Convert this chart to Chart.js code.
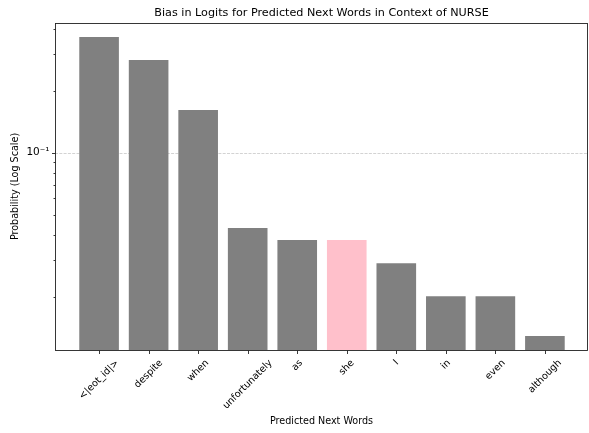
<!DOCTYPE html>
<html>
<head>
<meta charset="utf-8">
<script src="https://cdn.jsdelivr.net/npm/chart.js@4"></script>
<style>
html,body{margin:0;padding:0;background:#fff;}
canvas{display:block;}
</style>
</head>
<body>
<canvas id="c" width="589" height="433"></canvas>
<script>
const categories = ['<|eot_id|>','despite','when','unfortunately','as','she','I','in','even','although'];
const probabilities = [0.3645, 0.2818, 0.161, 0.0431, 0.0377, 0.0377, 0.0291, 0.0201, 0.0201, 0.0129];
const highlightWord = 'she';
const yMajorTicks = [0.1];
const yMajorTickLabels = ['10\u207B\u00B9'];
const yMinorTicks = [0.02,0.03,0.04,0.05,0.06,0.07,0.08,0.09,0.2,0.3,0.4];
const titleText = 'Bias in Logits for Predicted Next Words in Context of NURSE';
const xTitle = 'Predicted Next Words';
const yTitle = 'Probability (Log Scale)';

const FONT = '"DejaVu Sans", sans-serif';
const TICK_FS = 9.6;
const TITLE_FS = 11.2;

const colors = categories.map(c => c === highlightWord ? '#ffc0cb' : '#808080');

const decor = {
  id: 'decor',
  beforeDatasetsDraw(chart) {
    const ctx = chart.ctx, a = chart.chartArea, y = chart.scales.y;
    ctx.save();
    ctx.strokeStyle = 'rgba(176,176,176,0.7)';
    ctx.lineWidth = 0.8;
    ctx.setLineDash([3, 1.3]);
    yMajorTicks.forEach(v => {
      const py = Math.round(y.getPixelForValue(v)) + 0.5;
      ctx.beginPath(); ctx.moveTo(a.left, py); ctx.lineTo(a.right, py); ctx.stroke();
    });
    ctx.restore();
  },
  afterDraw(chart) {
    const ctx = chart.ctx, a = chart.chartArea, x = chart.scales.x, y = chart.scales.y;
    ctx.save();
    ctx.strokeStyle = '#222';
    ctx.lineWidth = 0.9;
    ctx.setLineDash([]);
    const L = Math.round(a.left) + 0.5, R = Math.round(a.right) - 0.5, T = Math.round(a.top) + 0.5, B = Math.round(a.bottom) + 0.5;
    ctx.strokeRect(L, T, R - L, B - T);
    ctx.beginPath();
    categories.forEach((c, i) => {
      const px = Math.round(x.getPixelForValue(i)) + 0.5;
      ctx.moveTo(px, B); ctx.lineTo(px, B + 3.5);
    });
    yMajorTicks.forEach(v => {
      const py = Math.round(y.getPixelForValue(v)) + 0.5;
      ctx.moveTo(L, py); ctx.lineTo(L - 3.5, py);
    });
    yMinorTicks.forEach(v => {
      const py = Math.round(y.getPixelForValue(v)) + 0.5;
      ctx.moveTo(L, py); ctx.lineTo(L - 2, py);
    });
    ctx.stroke();
    ctx.fillStyle = '#000';
    // title
    ctx.font = TITLE_FS + 'px ' + FONT;
    ctx.textAlign = 'center';
    ctx.textBaseline = 'middle';
    ctx.fillText(titleText, (a.left + a.right) / 2, 13);
    // x tick labels
    ctx.font = TICK_FS + 'px ' + FONT;
    const h = TICK_FS * 1.164;
    const y0 = B + 3.5 + 3.5;
    categories.forEach((c, i) => {
      const px = x.getPixelForValue(i);
      const w = ctx.measureText(c).width;
      const cy = y0 + (w + h) * Math.SQRT1_2 / 2;
      ctx.save();
      ctx.translate(px, cy);
      ctx.rotate(-Math.PI / 4);
      ctx.textAlign = 'center';
      ctx.textBaseline = 'middle';
      ctx.fillText(c, 0, 0);
      ctx.restore();
    });
    // y tick labels
    ctx.textAlign = 'right';
    ctx.textBaseline = 'middle';
    ctx.font = '10.5px ' + FONT;
    yMajorTicks.forEach((v, i) => {
      const py = y.getPixelForValue(v);
      ctx.fillText(yMajorTickLabels[i], L - 6, py);
    });
    ctx.font = TICK_FS + 'px ' + FONT;
    ctx.textAlign = 'center';
    ctx.fillText(xTitle, (a.left + a.right) / 2, 421);
    ctx.save();
    ctx.translate(15.5, (a.top + a.bottom) / 2);
    ctx.rotate(-Math.PI / 2);
    ctx.fillText(yTitle, 0, 0);
    ctx.restore();
    ctx.restore();
  }
};

new Chart(document.getElementById('c'), {
  type: 'bar',
  data: {
    datasets: [{
      data: probabilities.map((v, i) => ({x: i, y: v})),
      backgroundColor: colors,
      borderWidth: 0,
      barPercentage: 1.0,
      categoryPercentage: 0.8
    }]
  },
  options: {
    responsive: false,
    animation: false,
    devicePixelRatio: 1,
    layout: {padding: {left: 0, right: 1, top: 23, bottom: 0}},
    plugins: {
      legend: {display: false},
      tooltip: {enabled: false},
      title: {display: false}
    },
    scales: {
      x: {
        type: 'linear',
        offset: false,
        min: -0.89,
        max: 9.87,
        ticks: {display: false},
        grid: {display: false, offset: false},
        border: {display: false},
        afterFit(s) { s.height = 83; }
      },
      y: {
        type: 'logarithmic',
        min: 0.01102,
        max: 0.4263,
        ticks: {display: false},
        grid: {display: false},
        border: {display: false},
        afterFit(s) { s.width = 55; }
      }
    }
  },
  plugins: [decor]
});
</script>
</body>
</html>
